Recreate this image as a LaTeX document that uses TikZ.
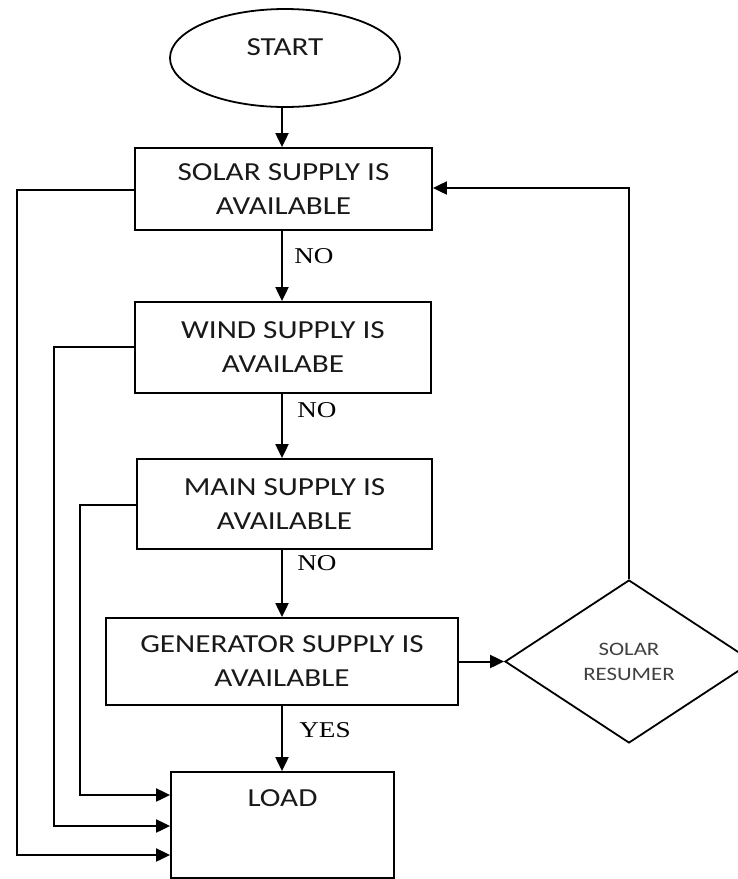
\documentclass[tikz,border=0pt]{standalone}
\usepackage{fontspec}
\setmainfont{Carlito}[FakeStretch=1.2]
\newfontfamily\labfont{Liberation Serif}[FakeStretch=1.2]
\usetikzlibrary{arrows.meta,shapes.geometric}
\tikzset{
  line/.style={line width=2pt, draw=black},
  arr/.style={line, -{Triangle[length=14pt,width=13pt]}},
  box/.style={draw=black, line width=1.8pt, rectangle, inner sep=0pt, align=center,
              text=black!90, font=\fontsize{26}{34}\selectfont},
  lab/.style={text=black, font=\labfont\fontsize{22.6}{26}\selectfont, inner sep=0pt},
}
\begin{document}
\begin{tikzpicture}[x=1pt,y=-1pt]
\useasboundingbox (0,0) rectangle (737,879);

\node[box, ellipse, minimum width=230pt, minimum height=98pt] (start) at (285,58) {\raisebox{22pt}{START}};
\node[box, minimum width=297pt, minimum height=82pt] (solar) at (283.5,189) {SOLAR SUPPLY IS\\AVAILABLE};
\node[box, minimum width=296pt, minimum height=91pt] (wind) at (283,347.5) {WIND SUPPLY IS\\AVAILABE};
\node[box, minimum width=295pt, minimum height=90pt] (main) at (284.5,504) {MAIN SUPPLY IS\\AVAILABLE};
\node[box, minimum width=352pt, minimum height=87pt] (gen) at (282,661.5) {GENERATOR SUPPLY IS\\AVAILABLE};
\node[box, minimum width=223pt, minimum height=106pt] (load) at (282.5,825) {\raisebox{54pt}{LOAD}};
\node[box, diamond, minimum width=248pt, minimum height=163pt, text=black!75, font=\fontsize{19}{25}\selectfont] (res) at (629,661.5) {SOLAR\\RESUMER};

% column for vertical arrows
\coordinate (col) at (282,0);
\draw[arr] (start.south -| col) -- (solar.north -| col);
\draw[arr] (solar.south -| col) -- (wind.north -| col);
\draw[arr] (wind.south -| col) -- (main.north -| col);
\draw[arr] (main.south -| col) -- (gen.north -| col);
\draw[arr] (gen.south -| col) -- (load.north -| col);

\node[lab] (no1) at (314,256) {NO};
\node[lab] (no2) at (317,410) {NO};
\node[lab] (no3) at (317,563) {NO};
\node[lab] (yes) at (325,730) {YES};

% left return lines into LOAD
\coordinate (s1) at (17,190);
\coordinate (s2) at (17,855);
\draw[arr] (solar.west |- s1) -- (s1) -- (s2) -- (load.west |- s2);
\coordinate (w1) at (54,347);
\coordinate (w2) at (54,826);
\draw[arr] (wind.west |- w1) -- (w1) -- (w2) -- (load.west |- w2);
\coordinate (m1) at (80,505);
\coordinate (m2) at (80,795);
\draw[arr] (main.west |- m1) -- (m1) -- (m2) -- (load.west |- m2);

% generator to solar resumer and back to solar
\draw[arr] (gen.east) -- (res.west);
\coordinate (r1) at (629,188);
\draw[arr] (res.north) -- (r1) -- (solar.east |- r1);
\end{tikzpicture}
\end{document}
